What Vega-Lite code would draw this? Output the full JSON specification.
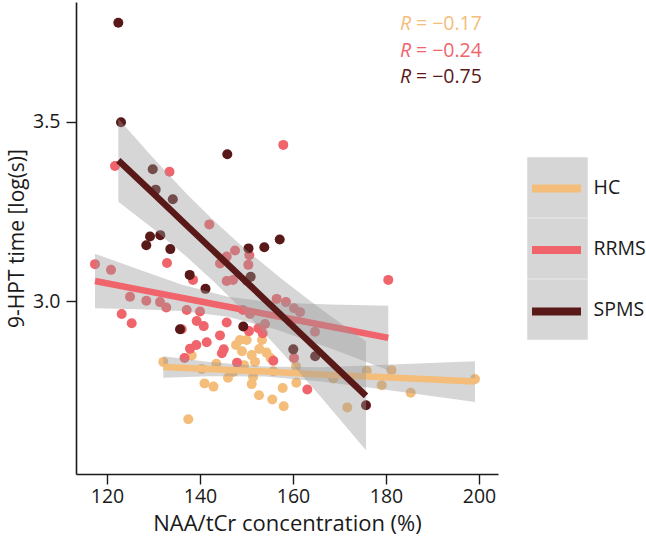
{
  "$schema": "https://vega.github.io/schema/vega-lite/v6.json",
  "width": 422,
  "height": 472,
  "autosize": {"type": "none"},
  "padding": {"left": 76, "top": 2, "right": 148, "bottom": 63},
  "background": "white",
  "config": {
    "view": {"stroke": null},
    "font": "Open Sans",
    "axis": {
      "grid": false,
      "domainColor": "#1a1a1a",
      "domainWidth": 1.6,
      "tickColor": "#1a1a1a",
      "tickWidth": 1.4,
      "tickSize": 10,
      "labelFont": "Open Sans",
      "labelFontSize": 19.5,
      "labelColor": "#1a1a1a",
      "labelPadding": 4,
      "titleFont": "Open Sans",
      "titleFontSize": 21.5,
      "titleFontWeight": "normal",
      "titleColor": "#1a1a1a"
    }
  },
  "datasets": {
    "pts": [
      {"g": "HC", "naa": 132.11, "hpt": 2.830}, {"g": "HC", "naa": 138.22, "hpt": 2.848},
      {"g": "HC", "naa": 140.37, "hpt": 2.810}, {"g": "HC", "naa": 140.97, "hpt": 2.770},
      {"g": "HC", "naa": 142.90, "hpt": 2.761}, {"g": "HC", "naa": 143.51, "hpt": 2.825},
      {"g": "HC", "naa": 146.02, "hpt": 2.786}, {"g": "HC", "naa": 147.16, "hpt": 2.802},
      {"g": "HC", "naa": 148.60, "hpt": 2.891}, {"g": "HC", "naa": 150.04, "hpt": 2.891},
      {"g": "HC", "naa": 149.03, "hpt": 2.860}, {"g": "HC", "naa": 151.12, "hpt": 2.849},
      {"g": "HC", "naa": 151.83, "hpt": 2.830}, {"g": "HC", "naa": 152.75, "hpt": 2.866},
      {"g": "HC", "naa": 154.30, "hpt": 2.856}, {"g": "HC", "naa": 155.16, "hpt": 2.841},
      {"g": "HC", "naa": 151.40, "hpt": 2.788}, {"g": "HC", "naa": 151.12, "hpt": 2.768},
      {"g": "HC", "naa": 152.69, "hpt": 2.737}, {"g": "HC", "naa": 155.55, "hpt": 2.725},
      {"g": "HC", "naa": 157.78, "hpt": 2.757}, {"g": "HC", "naa": 158.00, "hpt": 2.706},
      {"g": "HC", "naa": 160.71, "hpt": 2.772}, {"g": "HC", "naa": 160.65, "hpt": 2.818},
      {"g": "HC", "naa": 155.76, "hpt": 2.804}, {"g": "HC", "naa": 137.48, "hpt": 2.670},
      {"g": "HC", "naa": 168.67, "hpt": 2.784}, {"g": "HC", "naa": 171.68, "hpt": 2.703},
      {"g": "HC", "naa": 175.85, "hpt": 2.805}, {"g": "HC", "naa": 179.08, "hpt": 2.765},
      {"g": "HC", "naa": 181.18, "hpt": 2.807}, {"g": "HC", "naa": 185.31, "hpt": 2.744},
      {"g": "HC", "naa": 199.14, "hpt": 2.782}, {"g": "HC", "naa": 149.46, "hpt": 2.821},
      {"g": "HC", "naa": 147.74, "hpt": 2.877}, {"g": "HC", "naa": 153.33, "hpt": 2.891},
      {"g": "RRMS", "naa": 117.42, "hpt": 3.103}, {"g": "RRMS", "naa": 120.86, "hpt": 3.087},
      {"g": "RRMS", "naa": 121.72, "hpt": 3.377}, {"g": "RRMS", "naa": 123.16, "hpt": 2.964},
      {"g": "RRMS", "naa": 125.31, "hpt": 2.938}, {"g": "RRMS", "naa": 124.95, "hpt": 3.012},
      {"g": "RRMS", "naa": 128.45, "hpt": 3.001}, {"g": "RRMS", "naa": 131.40, "hpt": 2.997},
      {"g": "RRMS", "naa": 132.75, "hpt": 2.982}, {"g": "RRMS", "naa": 132.90, "hpt": 3.106},
      {"g": "RRMS", "naa": 133.44, "hpt": 3.361}, {"g": "RRMS", "naa": 142.00, "hpt": 3.214},
      {"g": "RRMS", "naa": 147.53, "hpt": 3.141}, {"g": "RRMS", "naa": 145.74, "hpt": 3.124},
      {"g": "RRMS", "naa": 144.30, "hpt": 3.105}, {"g": "RRMS", "naa": 150.39, "hpt": 3.101},
      {"g": "RRMS", "naa": 150.60, "hpt": 3.128}, {"g": "RRMS", "naa": 145.74, "hpt": 3.056},
      {"g": "RRMS", "naa": 147.10, "hpt": 3.059}, {"g": "RRMS", "naa": 150.04, "hpt": 3.057},
      {"g": "RRMS", "naa": 138.49, "hpt": 3.059}, {"g": "RRMS", "naa": 157.91, "hpt": 3.436},
      {"g": "RRMS", "naa": 137.14, "hpt": 2.975}, {"g": "RRMS", "naa": 140.00, "hpt": 2.971},
      {"g": "RRMS", "naa": 139.29, "hpt": 2.944}, {"g": "RRMS", "naa": 140.80, "hpt": 2.930},
      {"g": "RRMS", "naa": 145.74, "hpt": 2.940}, {"g": "RRMS", "naa": 144.30, "hpt": 2.904},
      {"g": "RRMS", "naa": 141.44, "hpt": 2.885}, {"g": "RRMS", "naa": 139.20, "hpt": 2.877},
      {"g": "RRMS", "naa": 137.85, "hpt": 2.867}, {"g": "RRMS", "naa": 145.10, "hpt": 2.865},
      {"g": "RRMS", "naa": 144.71, "hpt": 2.854}, {"g": "RRMS", "naa": 136.67, "hpt": 2.841},
      {"g": "RRMS", "naa": 147.96, "hpt": 2.828}, {"g": "RRMS", "naa": 136.06, "hpt": 2.921},
      {"g": "RRMS", "naa": 152.54, "hpt": 2.924}, {"g": "RRMS", "naa": 153.48, "hpt": 2.910},
      {"g": "RRMS", "naa": 153.98, "hpt": 2.936}, {"g": "RRMS", "naa": 155.76, "hpt": 2.833},
      {"g": "RRMS", "naa": 163.08, "hpt": 2.753}, {"g": "RRMS", "naa": 150.54, "hpt": 2.916},
      {"g": "RRMS", "naa": 156.49, "hpt": 3.006}, {"g": "RRMS", "naa": 158.49, "hpt": 2.997},
      {"g": "RRMS", "naa": 160.22, "hpt": 2.980}, {"g": "RRMS", "naa": 161.51, "hpt": 2.969},
      {"g": "RRMS", "naa": 159.57, "hpt": 2.941}, {"g": "RRMS", "naa": 164.73, "hpt": 2.914},
      {"g": "RRMS", "naa": 149.25, "hpt": 2.975}, {"g": "RRMS", "naa": 150.75, "hpt": 2.964},
      {"g": "RRMS", "naa": 180.49, "hpt": 3.059}, {"g": "RRMS", "naa": 160.22, "hpt": 2.841},
      {"g": "SPMS", "naa": 122.43, "hpt": 3.777}, {"g": "SPMS", "naa": 123.01, "hpt": 3.499},
      {"g": "SPMS", "naa": 145.87, "hpt": 3.410}, {"g": "SPMS", "naa": 129.83, "hpt": 3.368},
      {"g": "SPMS", "naa": 130.47, "hpt": 3.311}, {"g": "SPMS", "naa": 134.15, "hpt": 3.284},
      {"g": "SPMS", "naa": 131.46, "hpt": 3.184}, {"g": "SPMS", "naa": 129.25, "hpt": 3.180},
      {"g": "SPMS", "naa": 128.45, "hpt": 3.156}, {"g": "SPMS", "naa": 133.61, "hpt": 3.145},
      {"g": "SPMS", "naa": 150.43, "hpt": 3.147}, {"g": "SPMS", "naa": 153.83, "hpt": 3.150},
      {"g": "SPMS", "naa": 157.14, "hpt": 3.172}, {"g": "SPMS", "naa": 137.78, "hpt": 3.073},
      {"g": "SPMS", "naa": 141.18, "hpt": 3.034}, {"g": "SPMS", "naa": 150.90, "hpt": 3.068},
      {"g": "SPMS", "naa": 135.70, "hpt": 2.921}, {"g": "SPMS", "naa": 149.31, "hpt": 2.929},
      {"g": "SPMS", "naa": 160.06, "hpt": 2.865}, {"g": "SPMS", "naa": 164.77, "hpt": 2.846},
      {"g": "SPMS", "naa": 175.70, "hpt": 2.709}
    ],
    "fit": [
      {"g": "HC", "naa": 132.11, "fit": 2.816, "lo": 2.786, "hi": 2.846},
      {"g": "HC", "naa": 142, "fit": 2.810, "lo": 2.790, "hi": 2.830},
      {"g": "HC", "naa": 154, "fit": 2.803, "lo": 2.789, "hi": 2.817},
      {"g": "HC", "naa": 166, "fit": 2.795, "lo": 2.775, "hi": 2.815},
      {"g": "HC", "naa": 180, "fit": 2.787, "lo": 2.752, "hi": 2.822},
      {"g": "HC", "naa": 199.14, "fit": 2.775, "lo": 2.718, "hi": 2.832},
      {"g": "RRMS", "naa": 117.42, "fit": 3.056, "lo": 2.980, "hi": 3.132},
      {"g": "RRMS", "naa": 127, "fit": 3.032, "lo": 2.977, "hi": 3.087},
      {"g": "RRMS", "naa": 136, "fit": 3.009, "lo": 2.972, "hi": 3.046},
      {"g": "RRMS", "naa": 146, "fit": 2.984, "lo": 2.956, "hi": 3.012},
      {"g": "RRMS", "naa": 156, "fit": 2.959, "lo": 2.922, "hi": 2.996},
      {"g": "RRMS", "naa": 168, "fit": 2.929, "lo": 2.868, "hi": 2.990},
      {"g": "RRMS", "naa": 180.49, "fit": 2.897, "lo": 2.807, "hi": 2.987},
      {"g": "SPMS", "naa": 122.43, "fit": 3.393, "lo": 3.277, "hi": 3.509},
      {"g": "SPMS", "naa": 130, "fit": 3.300, "lo": 3.201, "hi": 3.399},
      {"g": "SPMS", "naa": 137, "fit": 3.213, "lo": 3.125, "hi": 3.301},
      {"g": "SPMS", "naa": 143, "fit": 3.139, "lo": 3.054, "hi": 3.224},
      {"g": "SPMS", "naa": 150, "fit": 3.053, "lo": 2.964, "hi": 3.142},
      {"g": "SPMS", "naa": 158, "fit": 2.954, "lo": 2.851, "hi": 3.057},
      {"g": "SPMS", "naa": 166, "fit": 2.855, "lo": 2.732, "hi": 2.978},
      {"g": "SPMS", "naa": 175.70, "fit": 2.735, "lo": 2.583, "hi": 2.887}
    ],
    "rlab": [
      {"g": "HC", "naa": 183.0, "hpt": 3.774, "r": "R", "eq": "= −0.17"},
      {"g": "RRMS", "naa": 183.0, "hpt": 3.699, "r": "R", "eq": "= −0.24"},
      {"g": "SPMS", "naa": 183.0, "hpt": 3.626, "r": "R", "eq": "= −0.75"}
    ]
  },
  "encoding": {
    "x": {
      "field": "naa",
      "type": "quantitative",
      "scale": {"domain": [113.33, 204.09], "nice": false, "zero": false},
      "axis": {"values": [120, 140, 160, 180, 200], "title": "NAA/tCr concentration (%)", "titleFontSize": 22, "titlePadding": 8, "labelPadding": 3}
    }
  },
  "layer": [
    {
      "data": {"name": "pts"},
      "mark": {"type": "circle", "size": 100, "opacity": 1},
      "encoding": {
        "y": {
          "field": "hpt",
          "type": "quantitative",
          "scale": {"domain": [2.517, 3.835], "nice": false, "zero": false},
          "axis": {"values": [3.0, 3.5], "format": ".1f", "title": "9-HPT time [log(s)]", "titleFontSize": 21, "titlePadding": 5, "labelPadding": 6}
        },
        "color": {
          "field": "g",
          "type": "nominal",
          "scale": {"domain": ["HC", "RRMS", "SPMS"], "range": ["#F4BD7A", "#F0646C", "#5A1919"]}
        }
      }
    },
    {
      "data": {"name": "rlab"},
      "mark": {"type": "point", "filled": true, "color": "#D6D6D6", "opacity": 0},
      "encoding": {
        "y": {"field": "hpt", "type": "quantitative"},
        "shape": {
          "field": "g",
          "type": "nominal",
          "scale": {"range": ["square", "square", "square"]},
          "legend": {
            "title": null,
            "orient": "none",
            "legendX": 451,
            "legendY": 155,
            "zindex": 1,
            "symbolSize": 3660,
            "symbolOpacity": 1,
            "symbolFillColor": "#D6D6D6",
            "symbolStrokeColor": "transparent",
            "symbolStrokeWidth": 0,
            "labelFont": "Open Sans",
            "labelFontSize": 19.5,
            "labelColor": "#1a1a1a",
            "labelOffset": 5.5,
            "padding": 0,
            "rowPadding": 0
          }
        }
      }
    },
    {
      "data": {"name": "fit"},
      "transform": [{"filter": "datum.g == 'HC'"}],
      "mark": {"type": "area", "color": "#999999", "opacity": 0.4},
      "encoding": {
        "y": {"field": "lo", "type": "quantitative"},
        "y2": {"field": "hi"}
      }
    },
    {
      "data": {"name": "fit"},
      "transform": [{"filter": "datum.g == 'HC'"}],
      "mark": {"type": "line", "strokeWidth": 6.5, "strokeCap": "butt"},
      "encoding": {
        "y": {"field": "fit", "type": "quantitative"},
        "color": {"field": "g", "type": "nominal"}
      }
    },
    {
      "data": {"name": "fit"},
      "transform": [{"filter": "datum.g == 'RRMS'"}],
      "mark": {"type": "area", "color": "#999999", "opacity": 0.4},
      "encoding": {
        "y": {"field": "lo", "type": "quantitative"},
        "y2": {"field": "hi"}
      }
    },
    {
      "data": {"name": "fit"},
      "transform": [{"filter": "datum.g == 'RRMS'"}],
      "mark": {"type": "line", "strokeWidth": 6.5, "strokeCap": "butt"},
      "encoding": {
        "y": {"field": "fit", "type": "quantitative"},
        "color": {"field": "g", "type": "nominal"}
      }
    },
    {
      "data": {"name": "fit"},
      "transform": [{"filter": "datum.g == 'SPMS'"}],
      "mark": {"type": "area", "color": "#999999", "opacity": 0.4},
      "encoding": {
        "y": {"field": "lo", "type": "quantitative"},
        "y2": {"field": "hi"}
      }
    },
    {
      "data": {"name": "fit"},
      "transform": [{"filter": "datum.g == 'SPMS'"}],
      "mark": {"type": "line", "strokeWidth": 6.5, "strokeCap": "butt"},
      "encoding": {
        "y": {"field": "fit", "type": "quantitative"},
        "color": {
          "field": "g",
          "type": "nominal",
          "legend": {
            "title": null,
            "orient": "none",
            "legendX": 452,
            "legendY": 158,
            "zindex": 2,
            "symbolType": "stroke",
            "symbolSize": 2401,
            "symbolStrokeWidth": 8,
            "symbolOpacity": 1,
            "labelExpr": "''",
            "labelFontSize": 0,
            "labelOffset": 0,
            "padding": 0,
            "rowPadding": 16.5
          }
        }
      }
    },
    {
      "data": {"name": "rlab"},
      "mark": {"type": "text", "align": "left", "baseline": "middle", "fontSize": 19.5, "fontStyle": "italic", "font": "Open Sans"},
      "encoding": {
        "y": {"field": "hpt", "type": "quantitative"},
        "text": {"field": "r"},
        "color": {"field": "g", "type": "nominal"}
      }
    },
    {
      "data": {"name": "rlab"},
      "mark": {"type": "text", "align": "left", "baseline": "middle", "fontSize": 19.5, "dx": 16, "font": "Open Sans"},
      "encoding": {
        "y": {"field": "hpt", "type": "quantitative"},
        "text": {"field": "eq"},
        "color": {"field": "g", "type": "nominal"}
      }
    }
  ]
}
